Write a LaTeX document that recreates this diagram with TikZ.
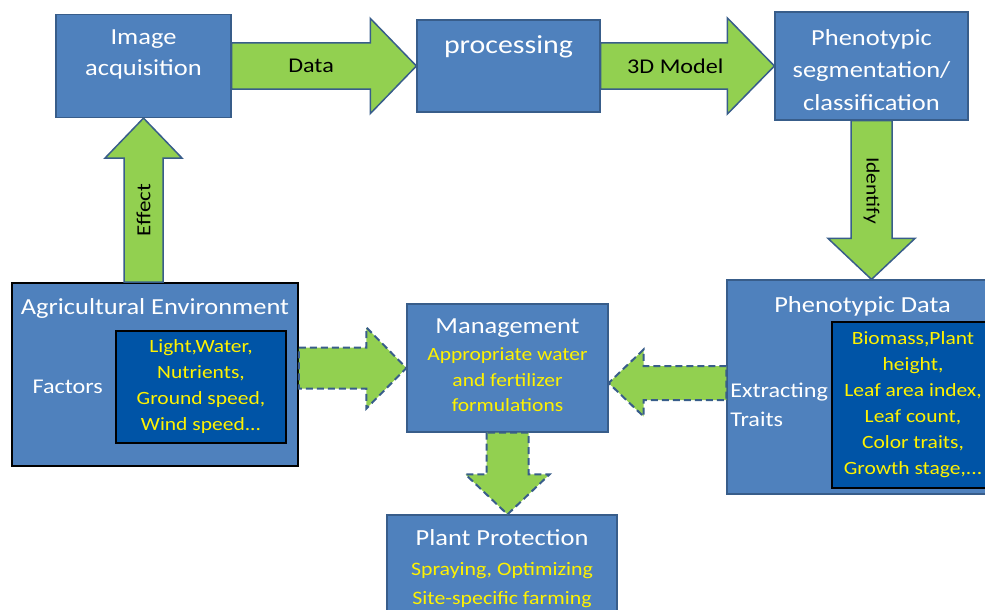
\documentclass[tikz,border=0pt]{standalone}
\usepackage{fontspec}
\setmainfont{Carlito}[FakeStretch=1.15]
\usepackage{xcolor}
\usepackage{tikz}
\usetikzlibrary{positioning, calc}

\definecolor{boxfill}{RGB}{79,129,189}
\definecolor{boxline}{RGB}{56,93,138}
\definecolor{innerfill}{RGB}{0,84,166}
\definecolor{arrowfill}{RGB}{146,208,80}
\definecolor{arrowline}{RGB}{56,93,138}

\begin{document}
\begin{tikzpicture}[x=1pt, y=-1pt,
    block/.style={rectangle, draw=boxline, fill=boxfill, line width=1.2pt, inner sep=0pt},
    innerblock/.style={rectangle, draw=black, fill=innerfill, line width=1.8pt, inner sep=0pt,
                       text=yellow, align=center, font=\fontsize{18.7}{26}\selectfont},
    boxtitle/.style={inner sep=0pt, text=white, align=center, font=\fontsize{23}{31}\selectfont},
    yeltext/.style={inner sep=0pt, text=yellow, align=center, font=\fontsize{18.7}{25.5}\selectfont},
    fat/.style={draw=arrowline, fill=arrowfill, line width=1.5pt, line join=miter},
    fatdash/.style={fat, line width=2pt, dash pattern=on 7pt off 4pt},
    arrlabel/.style={inner sep=0pt, font=\fontsize{21}{25}\selectfont},
  ]
    \useasboundingbox (0,0) rectangle (985,610);
    \clip (0,0) rectangle (985,610);

    % Top row
    \node[block, minimum width=175, minimum height=103] (img) at (143.5,66) {};
    \node[block, minimum width=183, minimum height=92] (proc) at (508.5,66) {};
    \node[block, minimum width=193, minimum height=108] (seg) at (871.5,66) {};

    % Environment
    \node[block, draw=black, line width=1.8pt, minimum width=286, minimum height=183] (agri) at (155,374.5) {};
    \node[innerblock, minimum width=170, minimum height=112] (facts) at (201,387)
      {Light,Water,\\Nutrients,\\Ground speed,\\Wind speed...};

    % Management and protection
    \node[block, minimum width=201, minimum height=128] (mgmt) at (507.5,368) {};
    \node[block, minimum width=230, minimum height=125] (prot) at (502,577.5) {};

    % Phenotypic data
    \node[block, minimum width=271, minimum height=214] (pheno) at (862.5,387) {};
    \node[innerblock, minimum width=162, minimum height=166] (traits) at (913,405)
      {Biomass,Plant\\height,\\Leaf area index,\\Leaf count,\\Color traits,\\Growth stage,...};

    % Box texts
    \node[boxtitle, below=16pt of img.north] {Image\\acquisition};
    \node[boxtitle, font=\fontsize{26}{31}\selectfont, below=16pt of proc.north] {processing};
    \node[boxtitle, font=\fontsize{23}{32.5}\selectfont, yshift=-4pt] at (seg) {Phenotypic\\segmentation/\\classification};
    \node[boxtitle, below=16pt of agri.north] {Agricultural Environment};
    \node[boxtitle, font=\fontsize{21}{25}\selectfont, left=12pt of facts] {Factors};
    \node[boxtitle, below=15pt of mgmt.north] (mgmtT) {Management};
    \node[yeltext, below=10pt of mgmtT] {Appropriate water\\and fertilizer\\formulations};
    \node[boxtitle, below=17pt of pheno.north] {Phenotypic Data};
    \node[boxtitle, align=left, font=\fontsize{21}{29}\selectfont, left=3pt of traits] {Extracting\\Traits};
    \node[boxtitle, below=15pt of prot.north] (protT) {Plant Protection};
    \node[yeltext, font=\fontsize{19}{29.5}\selectfont, below=16pt of protT] {Spraying, Optimizing\\Site-specific farming};

    % Block arrows
    \coordinate (idtip) at (seg.south |- pheno.north);
    \coordinate (effbase) at (img.south |- agri.north);
    \coordinate (agout) at (agri.east |- mgmt.west);
    \coordinate (mgin) at ($(mgmt.east)+(0,15)$);
    \coordinate (phout) at (pheno.west |- mgin);
    \coordinate (prtip) at (mgmt.south |- prot.north);

    \draw[fat] ($(img.east)+(0,-23)$) -- ($(proc.west)+(-46,-23)$) -- ($(proc.west)+(-46,-47.5)$) -- (proc.west)
      -- ($(proc.west)+(-46,47.5)$) -- ($(proc.west)+(-46,23)$) -- ($(img.east)+(0,23)$) -- cycle;
    \draw[fat] ($(proc.east)+(0,-23)$) -- ($(seg.west)+(-47,-23)$) -- ($(seg.west)+(-47,-48)$) -- (seg.west)
      -- ($(seg.west)+(-47,48)$) -- ($(seg.west)+(-47,23)$) -- ($(proc.east)+(0,23)$) -- cycle;
    \draw[fat] ($(seg.south)+(-20.5,0)$) -- ($(idtip)+(-20.5,-41)$) -- ($(idtip)+(-43.5,-41)$) -- (idtip)
      -- ($(idtip)+(43.5,-41)$) -- ($(idtip)+(20.5,-41)$) -- ($(seg.south)+(20.5,0)$) -- cycle;
    \draw[fat] ($(effbase)+(-19.5,0)$) -- ($(img.south)+(-19.5,40)$) -- ($(img.south)+(-38.5,40)$) -- (img.south)
      -- ($(img.south)+(38.5,40)$) -- ($(img.south)+(19.5,40)$) -- ($(effbase)+(19.5,0)$) -- cycle;

    % Dashed arrows
    \draw[fatdash] ($(agout)+(0,-20.5)$) -- ($(mgmt.west)+(-40,-20.5)$) -- ($(mgmt.west)+(-40,-40.5)$) -- (mgmt.west)
      -- ($(mgmt.west)+(-40,40.5)$) -- ($(mgmt.west)+(-40,20.5)$) -- ($(agout)+(0,20.5)$) -- cycle;
    \draw[fatdash] ($(phout)+(0,-17)$) -- ($(mgin)+(35,-17)$) -- ($(mgin)+(35,-33.5)$) -- (mgin)
      -- ($(mgin)+(35,33.5)$) -- ($(mgin)+(35,17)$) -- ($(phout)+(0,17)$) -- cycle;
    \draw[fatdash] ($(mgmt.south)+(-21,0)$) -- ($(prtip)+(-21,-40)$) -- ($(prtip)+(-42,-40)$) -- (prtip)
      -- ($(prtip)+(42,-40)$) -- ($(prtip)+(21,-40)$) -- ($(mgmt.south)+(21,0)$) -- cycle;

    % Arrow labels
    \node[arrlabel] at ($(img.east)!0.43!(proc.west)$) {Data};
    \node[arrlabel] at ($(proc.east)!0.43!(seg.west)$) {3D Model};
    \node[arrlabel, rotate=90, font=\fontsize{20}{24}\selectfont] at ($(img.south)!0.56!(effbase)$) {Effect};
    \node[arrlabel, rotate=-90, font=\fontsize{18.7}{22}\selectfont] at ($(seg.south)!0.44!(idtip)$) {Identify};

  \end{tikzpicture}
\end{document}
